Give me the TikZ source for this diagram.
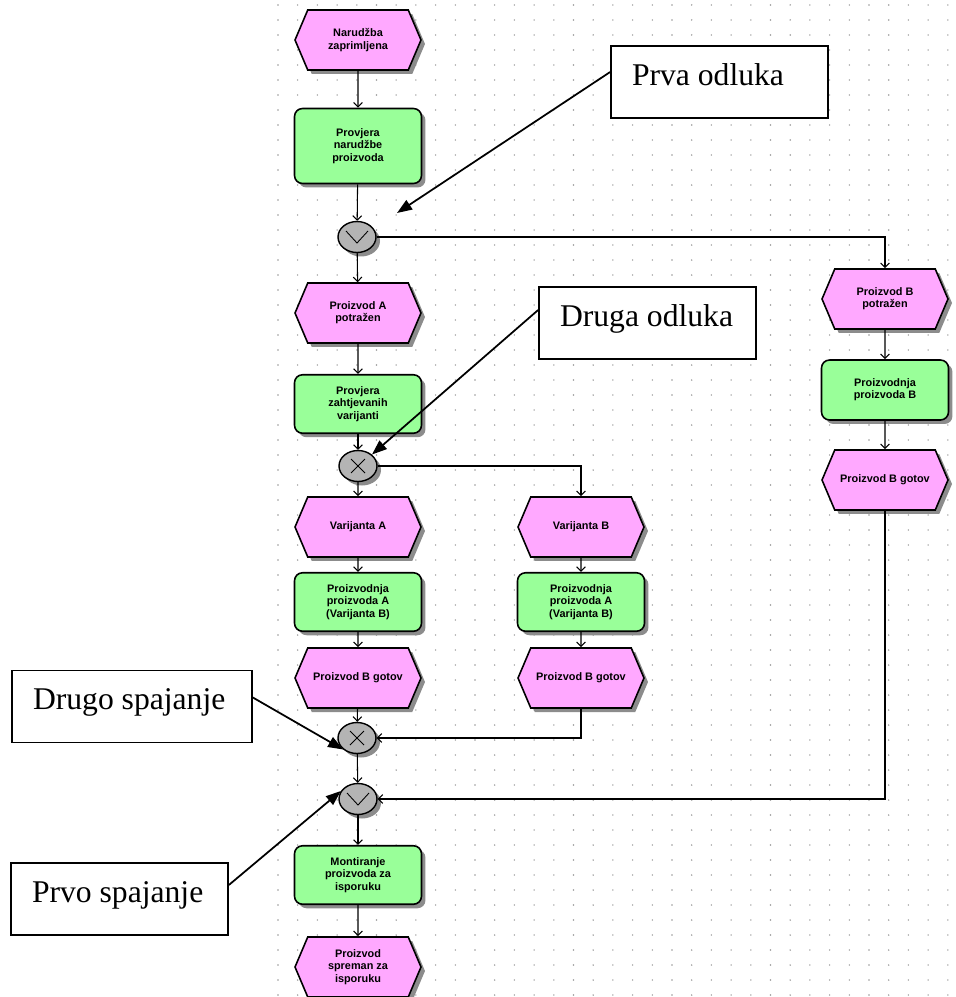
\documentclass[tikz,border=0pt]{standalone}
\usepackage{fontspec}
\setmainfont{Liberation Serif}
\newfontfamily\epcfont{Liberation Sans}
\usepackage{xcolor}
\usetikzlibrary{shapes.symbols,shapes.geometric,arrows.meta,shadows}

\definecolor{eventpink}{RGB}{255,168,255}
\definecolor{funcgreen}{RGB}{153,255,153}
\definecolor{conngray}{RGB}{180,180,180}

\begin{document}
\begin{tikzpicture}[x=0.02cm,y=-0.02cm,
  epcshadow/.style={drop shadow={shadow xshift=0.08cm,shadow yshift=-0.08cm,fill=black!45,opacity=1}},
  event/.style={signal,signal to=west and east,signal pointer angle=134,draw,line width=0.9pt,
    fill=eventpink,minimum width=2.52cm,minimum height=1.2cm,inner sep=1pt,align=center,
    font=\epcfont\bfseries\fontsize{6.2}{7}\selectfont,epcshadow},
  func/.style={rectangle,rounded corners=0.16cm,draw,line width=0.9pt,fill=funcgreen,
    minimum width=2.54cm,minimum height=1.17cm,inner sep=1pt,align=center,
    font=\epcfont\bfseries\fontsize{6.2}{7}\selectfont,epcshadow},
  orgate/.style={ellipse,draw,line width=0.8pt,fill=conngray,minimum width=0.76cm,
    minimum height=0.62cm,inner sep=0pt,epcshadow,
    path picture={\draw[line width=0.5pt] (path picture bounding box.center)
      ++(-0.22cm,0.12cm) -- ++(0.22cm,-0.24cm) -- ++(0.22cm,0.24cm);}},
  xorgate/.style={ellipse,draw,line width=0.8pt,fill=conngray,minimum width=0.76cm,
    minimum height=0.62cm,inner sep=0pt,epcshadow,
    path picture={\draw[line width=0.5pt] (path picture bounding box.center)
      ++(-0.14cm,-0.14cm) -- ++(0.28cm,0.28cm) ++(-0.28cm,0) -- ++(0.28cm,-0.28cm);}},
  flow/.style={line width=0.6pt,-{Straight Barb[length=2.5pt,width=5pt]}},
  callout/.style={draw,line width=1pt,fill=white,inner xsep=0.42cm,
    minimum height=1.44cm,text depth=0.28cm,font=\fontsize{18}{20}\selectfont},
  note/.style={line width=1pt,-{Triangle[length=0.3cm,width=0.22cm]}}]

\useasboundingbox (0,0) rectangle (956,997);
\fill[white] (0,0) rectangle (956,997);

% dotted grid
\foreach \i in {0,...,34} {
\foreach \j in {0,...,66} \fill[gray!80] (278+19.7*\i,5+15*\j) circle (0.45pt);
}

% main column
\node[event] (e1) at (358,40) {Narudžba\\zaprimljena};
\node[func,minimum height=1.5cm] (f1) at (358,146) {Provjera\\narudžbe\\proizvoda};
\node[orgate] (c1) at (357,237) {};
\node[event] (e2) at (358,313) {Proizvod A\\potražen};
\node[func] (f2) at (358,404) {Provjera\\zahtjevanih\\varijanti};
\node[xorgate] (c2) at (358,466) {};
\node[event] (e3) at (358,527) {Varijanta A};
\node[func] (f3) at (358,602) {Proizvodnja\\proizvoda A\\(Varijanta B)};
\node[event] (e4) at (358,678) {Proizvod B gotov};
\node[xorgate] (c3) at (357,738) {};
\node[orgate] (c4) at (358,799) {};
\node[func] (f4) at (358,875) {Montiranje\\proizvoda za\\isporuku};
\node[event] (e5) at (358,967) {Proizvod\\spreman za\\isporuku};

% middle column
\node[event] (e6) at (581,527) {Varijanta B};
\node[func] (f5) at (581,602) {Proizvodnja\\proizvoda A\\(Varijanta B)};
\node[event] (e7) at (581,678) {Proizvod B gotov};

% right column
\node[event] (e8) at (885,299) {Proizvod B\\potražen};
\node[func,minimum height=1.2cm] (f6) at (885,390) {Proizvodnja\\proizvoda B};
\node[event] (e9) at (885,480) {Proizvod B gotov};

% control flow
\draw[flow] (e1) -- (f1);
\draw[flow] (f1) -- (c1);
\draw[flow] (c1) -- (e2);
\draw[flow] (e2) -- (f2);
\draw[flow] (f2) -- (c2);
\draw[flow] (c2) -- (e3);
\draw[flow] (e3) -- (f3);
\draw[flow] (f3) -- (e4);
\draw[flow] (e4) -- (c3);
\draw[flow] (c3) -- (c4);
\draw[flow] (c4) -- (f4);
\draw[flow] (f4) -- (e5);
\draw[flow] (c2) -| (e6);
\draw[flow] (e6) -- (f5);
\draw[flow] (f5) -- (e7);
\draw[flow] (e7) |- (c3);
\draw[flow] (c1) -| (e8);
\draw[flow] (e8) -- (f6);
\draw[flow] (f6) -- (e9);
\draw[flow] (e9) |- (c4);

% callouts
\node[callout] (prva) at (719.5,82) {\makebox[3.5cm][l]{Prva odluka}};
\node[callout] (druga) at (647.5,323) {\makebox[3.5cm][l]{Druga odluka}};
\node[callout] (drugo) at (132,706.5) {\makebox[3.96cm][l]{Drugo spajanje}};
\node[callout] (prvo) at (119.5,899) {\makebox[3.5cm][l]{Prvo spajanje}};
\coordinate (prvatip) at (397,213);

\draw[note] ([yshift=0.2cm]prva.west) -- (prvatip);
\draw[note] ([yshift=0.26cm]druga.west) -- (c2.north east);
\draw[note] ([yshift=0.18cm]drugo.east) -- (c3.south west);
\draw[note] ([yshift=0.28cm]prvo.east) -- (c4.155);

\end{tikzpicture}
\end{document}
